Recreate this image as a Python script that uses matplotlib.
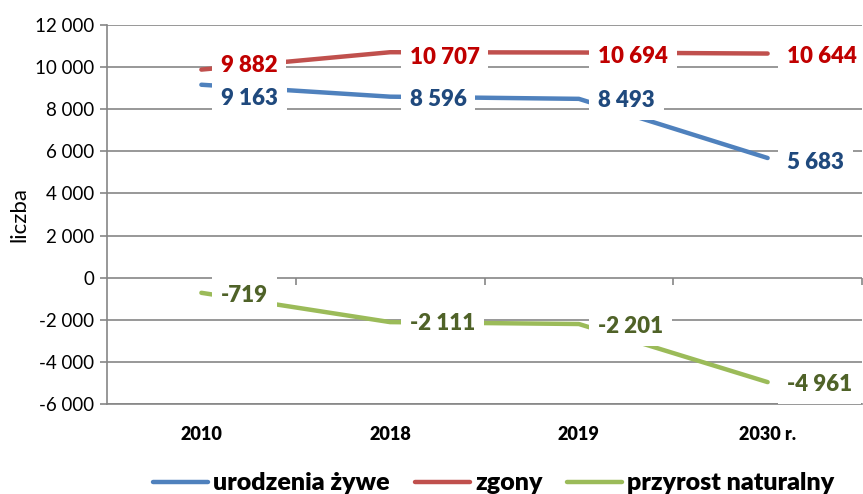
import matplotlib
matplotlib.use('Agg')
import matplotlib.pyplot as plt
from matplotlib.ticker import FuncFormatter

plt.rcParams['font.family'] = ['Lato', 'DejaVu Sans']

# dane
years = ['2010', '2018', '2019', '2030 r.']
urodzenia = [9163, 8596, 8493, 5683]
zgony = [9882, 10707, 10694, 10644]
przyrost = [-719, -2111, -2201, -4961]

series = [
    ('urodzenia żywe', urodzenia, '#4F81BD', '#1F497D'),
    ('zgony', zgony, '#C0504D', '#C00000'),
    ('przyrost naturalny', przyrost, '#9BBB59', '#4F6228'),
]
# przesunięcia etykiet w pionie (punkty), ręcznie jak w Excelu
label_dy = {
    'urodzenia żywe': [-10, -2, -1, -3],
    'zgony': [3, -4, -3, -2],
    'przyrost naturalny': [-2, -1, -2, -2],
}

fig = plt.figure(figsize=(8.63, 4.94), dpi=100)
ax = fig.add_axes([107 / 863, 1 - 404 / 494, 755 / 863, 379 / 494])

grid_c = '#868686'
x = list(range(len(years)))

for name, vals, col, tcol in series:
    ax.plot(x, vals, color=col, linewidth=3.2, solid_capstyle='round', zorder=3, label=name)
    for i, v in enumerate(vals):
        txt = f'{v:,}'.replace(',', ' ')
        ax.annotate(txt, (i, v), xytext=(14, label_dy[name][i]), textcoords='offset points',
                    ha='left', va='center', fontsize=16, fontweight='heavy', color=tcol,
                    bbox=dict(boxstyle='square,pad=0.4', fc='white', ec='none'),
                    zorder=5, annotation_clip=False)

ax.set_xlim(-0.5, 3.5)
ax.set_ylim(-6000, 12000)
ax.set_yticks(range(-6000, 12001, 2000))
ax.yaxis.set_major_formatter(FuncFormatter(lambda v, p: f'{int(v):,}'.replace(',', ' ')))
ax.grid(axis='y', color=grid_c, linewidth=1.2)
ax.set_axisbelow(True)

ax.set_xticks(x)
ax.set_xticklabels(years, fontsize=13, fontweight='heavy')
ax.tick_params(axis='x', length=0, pad=16)
ax.tick_params(axis='y', length=5, color=grid_c, width=1.2, labelsize=13.5, pad=4)

for s in ['top', 'right']:
    ax.spines[s].set_visible(False)
ax.spines['left'].set_color(grid_c)
ax.spines['left'].set_linewidth(1.2)
ax.spines['bottom'].set_color(grid_c)
ax.spines['bottom'].set_linewidth(1.2)

# oś kategorii na wysokości zera
sec = ax.secondary_xaxis(6000 / 18000)
sec.set_xticks([0.5, 1.5, 2.5, 3.5])
sec.tick_params(length=5, color=grid_c, width=1.2, labelbottom=False, labeltop=False, direction='out')
sec.spines['bottom'].set_visible(False)
sec.spines['top'].set_visible(False)
sec.xaxis.set_ticks_position('bottom')
sec.set_xticklabels([])

ax.set_ylabel('liczba', fontsize=16)
ax.yaxis.set_label_coords(-0.103, 0.5)

fig.legend(loc='lower center', bbox_to_anchor=(494 / 863, -0.006), ncol=3, frameon=False,
           prop={'size': 18, 'weight': 'heavy'}, handlelength=2.2, handletextpad=0.2,
           columnspacing=1.0, borderpad=0.1, borderaxespad=0)

fig.savefig('out.png', dpi=100)
